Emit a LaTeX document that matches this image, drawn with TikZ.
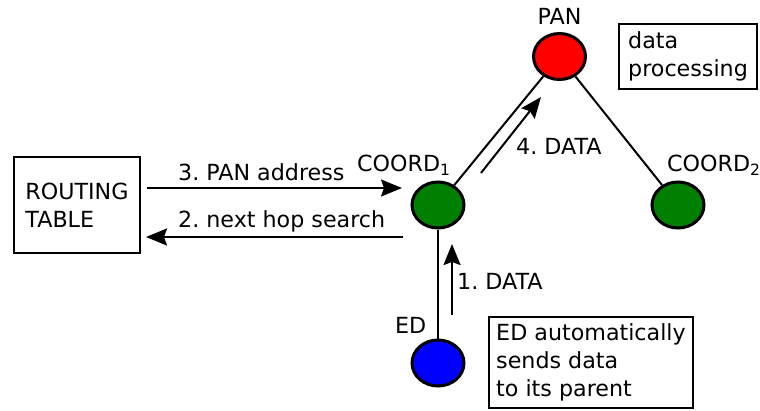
\documentclass[tikz,border=0pt]{standalone}
\usepackage{fontspec}
\setmainfont{DejaVu Sans}
\usetikzlibrary{shapes.geometric,arrows.meta}

\definecolor{coordgreen}{RGB}{0,128,0}
\definecolor{panred}{RGB}{255,0,0}
\definecolor{edblue}{RGB}{0,0,255}

\begin{document}
\frenchspacing
\begin{tikzpicture}[x=1pt,y=-1pt,
  every node/.style={font=\fontsize{22.2}{28}\selectfont},
  device/.style={ellipse,draw=black,line width=3pt,inner sep=0pt,
                 minimum width=52pt,minimum height=46pt},
  infobox/.style={draw=black,line width=2pt,align=left,inner sep=0pt},
  lbl/.style={inner sep=0pt,anchor=base west},
  link/.style={line width=2pt},
  msg/.style={line width=2pt,-{Stealth[length=21pt,width=17pt,inset=3pt]}}
]
\useasboundingbox (0,0) rectangle (760,410);

% network devices
\node[device,fill=panred]     (pan)    at (559.5,56.5) {};
\node[device,fill=coordgreen] (coordA) at (438,205)    {};
\node[device,fill=coordgreen] (coordB) at (678,205)    {};
\node[device,fill=edblue]     (ed)     at (438,363)    {};

% device names
\node[inner sep=0pt,anchor=base] (panname) at (559.5,24) {PAN};
\node[lbl] (coordAname) at (357,171) {COORD\textsubscript{1}};
\node[lbl] (coordBname) at (667,171) {COORD\textsubscript{2}};
\node[lbl] (edname)     at (395,333) {ED};

% tree links
\draw[link] (coordA) -- (pan);
\draw[link] (pan) -- (coordB);
\draw[link] (coordA) -- (ed);

% boxes
\node[infobox,minimum width=126pt,minimum height=96pt] (rt) at (77,205)
  {ROUTING\\TABLE};
\node[infobox,minimum width=138pt,minimum height=65pt] (proc) at (688,56.5)
  {data\\processing};
\node[infobox,minimum width=204pt,minimum height=91pt] (note) at (591,362.5)
  {ED automatically\\sends data\\to its parent};

% message flow
\coordinate (m1s) at (452,315);
\coordinate (m1e) at (452,244);
\coordinate (m2s) at (403,237);
\coordinate (m2e) at (146,237);
\coordinate (m3s) at (147,188);
\coordinate (m3e) at (402,188);
\coordinate (m4s) at (481,173);
\coordinate (m4e) at (541,97);

\draw[msg] (m1s) -- (m1e);
\draw[msg] (m2s) -- (m2e);
\draw[msg] (m3s) -- (m3e);
\draw[msg] (m4s) -- (m4e);

\node[lbl] (l1) at (457,289)   {1. DATA};
\node[lbl] (l2) at (178,227)   {2. next hop search};
\node[lbl] (l3) at (178,180.5) {3. PAN address};
\node[lbl] (l4) at (516,154)   {4. DATA};
\end{tikzpicture}
\end{document}
